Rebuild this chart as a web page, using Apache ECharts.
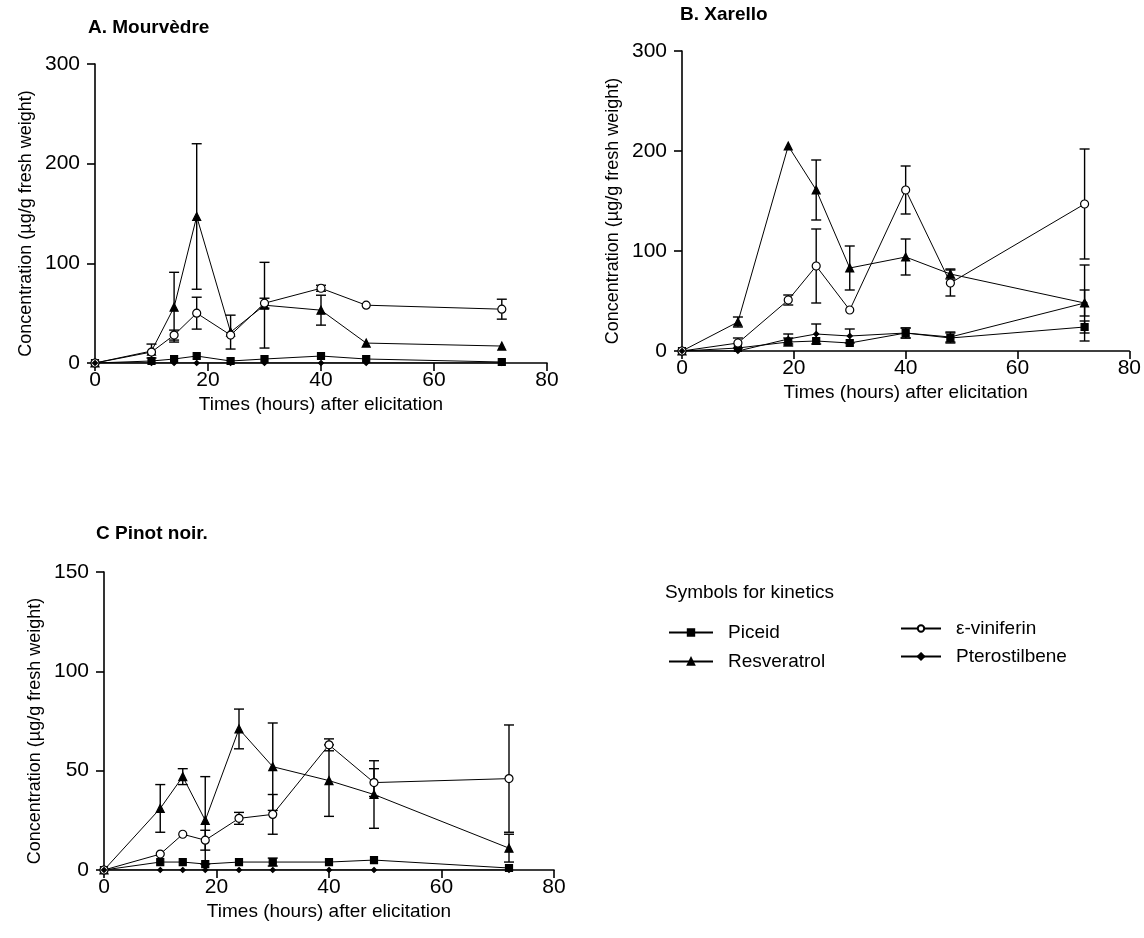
<!DOCTYPE html>
<html>
<head>
<meta charset="utf-8">
<script src="https://cdn.jsdelivr.net/npm/echarts@6/dist/echarts.min.js"></script>
<style>
  html, body { margin: 0; padding: 0; background: #fff; }
  #main { width: 1144px; height: 938px; }
</style>
</head>
<body>
<div id="main"></div>
<script>
// hours after elicitation
var hoursA = [0, 10, 14, 18, 24, 30, 40, 48, 72];
var hoursB = [0, 10, 19, 24, 30, 40, 48, 72];
var hoursC = [0, 10, 14, 18, 24, 30, 40, 48, 72];

var seriesNames = ['Piceid', 'Resveratrol', 'ε-viniferin', 'Pterostilbene'];

// A. Mourvèdre (µg/g fresh weight) and error sizes
var mourPiceid = [0, 2, 4, 7, 2, 4, 7, 4, 1];
var mourResv = [0, 12, 56, 147, 31, 58, 53, 20, 17];
var mourVini = [0, 11, 28, 50, 28, 60, 75, 58, 54];
var mourPtero = [0, 0, 0, 0, 0, 0, 0, 0, 0];
var mourResvErr = [0, 7, 35, 73, 17, 43, 15, 0, 0];
var mourViniErr = [0, 0, 5, 16, 0, 5, 3, 0, 10];

// B. Xarello
var xarPiceid = [0, 3, 9, 10, 8, 18, 13, 24];
var xarResv = [0, 29, 205, 161, 83, 94, 77, 48];
var xarVini = [0, 8, 51, 85, 41, 161, 68, 147];
var xarPtero = [0, 0, 12, 17, 15, 18, 14, 48];
var xarPiceidErr = [0, 0, 4, 0, 0, 5, 5, 6];
var xarResvErr = [0, 5, 0, 30, 22, 18, 5, 38];
var xarViniErr = [0, 5, 5, 37, 0, 24, 13, 55];
var xarPteroErr = [0, 0, 5, 10, 7, 5, 5, 13];

// C Pinot noir
var pinPiceid = [0, 4, 4, 3, 4, 4, 4, 5, 1];
var pinResv = [0, 31, 47, 25, 71, 52, 45, 38, 11];
var pinVini = [0, 8, 18, 15, 26, 28, 63, 44, 46];
var pinPtero = [0, 0, 0, 0, 0, 0, 0, 0, 0];
var pinPiceidErr = [0, 0, 0, 0, 0, 2, 0, 0, 0];
var pinResvErr = [0, 12, 4, 22, 10, 22, 18, 17, 7];
var pinViniErr = [0, 0, 0, 5, 3, 10, 3, 7, 27];

var FONT = 'Liberation Sans';

function pairs(hours, vals) {
	var out = [];
	for (var i = 0; i < hours.length; i++) {
		out.push([hours[i], vals[i]]);
	}
	return out;
}

function errPairs(hours, vals, err) {
	var out = [];
	for (var i = 0; i < hours.length; i++) {
		if (err[i] > 0) {
			out.push([hours[i], Math.max(0, vals[i] - err[i]), vals[i] + err[i]]);
		}
	}
	return out;
}

function renderErr(params, api) {
	var x = api.value(0);
	var top = api.coord([x, api.value(2)]);
	var bot = api.coord([x, api.value(1)]);
	var w = 5;
	var st = { stroke: '#000', lineWidth: 1.4 };
	return {
		type: 'group',
		children: [
			{ type: 'line', shape: { x1: top[0], y1: top[1], x2: bot[0], y2: bot[1] }, style: st },
			{ type: 'line', shape: { x1: top[0] - w, y1: top[1], x2: top[0] + w, y2: top[1] }, style: st },
			{ type: 'line', shape: { x1: bot[0] - w, y1: bot[1], x2: bot[0] + w, y2: bot[1] }, style: st }
		]
	};
}

var symbolOf = {
	'Piceid': { symbol: 'rect', size: 7, fill: '#000' },
	'Resveratrol': { symbol: 'triangle', size: 8, fill: '#000' },
	'ε-viniferin': { symbol: 'circle', size: 8, fill: '#fff' },
	'Pterostilbene': { symbol: 'diamond', size: 5, fill: '#000' }
};

function lineSeries(name, idx, hours, vals) {
	var s = symbolOf[name];
	return {
		name: name,
		type: 'line',
		xAxisIndex: idx,
		yAxisIndex: idx,
		data: pairs(hours, vals),
		symbol: s.symbol,
		symbolSize: s.size,
		showAllSymbol: true,
		lineStyle: { color: '#000', width: 1 },
		itemStyle: { color: s.fill, borderColor: '#000', borderWidth: 1.2 },
		emphasis: { disabled: true },
		animation: false,
		z: 3
	};
}

function errSeries(idx, data) {
	return {
		type: 'custom',
		xAxisIndex: idx,
		yAxisIndex: idx,
		data: data,
		encode: { x: 0, y: [1, 2] },
		renderItem: renderErr,
		silent: true,
		animation: false,
		z: 2
	};
}

function xAxisFor(idx) {
	return {
		gridIndex: idx,
		type: 'value',
		min: 0,
		max: 80,
		interval: 20,
		name: 'Times (hours) after elicitation',
		nameLocation: 'middle',
		nameGap: 32,
		nameTextStyle: { fontFamily: FONT, fontSize: 19, color: '#000' },
		axisLine: { lineStyle: { color: '#000', width: 1.6 } },
		axisTick: { length: 8, lineStyle: { color: '#000', width: 1.6 } },
		axisLabel: { fontFamily: FONT, fontSize: 21, color: '#000', margin: 7 },
		splitLine: { show: false }
	};
}

function yAxisFor(idx, max, interval) {
	return {
		gridIndex: idx,
		type: 'value',
		min: 0,
		max: max,
		interval: interval,
		name: 'Concentration (µg/g fresh weight)',
		nameLocation: 'middle',
		nameRotate: 90,
		nameGap: 60,
		nameTextStyle: { fontFamily: FONT, fontSize: 18, color: '#000', padding: [0, 20, 0, 0] },
		axisLine: { show: true, lineStyle: { color: '#000', width: 1.6 } },
		axisTick: { show: true, length: 8, lineStyle: { color: '#000', width: 1.6 } },
		axisLabel: { fontFamily: FONT, fontSize: 21, color: '#000', margin: 15 },
		splitLine: { show: false }
	};
}

var titleStyle = { fontFamily: FONT, fontSize: 19, fontWeight: 'bold', color: '#000' };
var legendText = { fontFamily: FONT, fontSize: 19, color: '#000', padding: [0, 0, 0, 10] };

var chart = echarts.init(document.getElementById('main'));

var option = {
	backgroundColor: '#fff',
	animation: false,
	title: [
		{ text: 'A. Mourvèdre', left: 83, top: 13, textStyle: titleStyle },
		{ text: 'B. Xarello', left: 675, top: 0, textStyle: titleStyle },
		{ text: 'C Pinot noir.', left: 91, top: 519, textStyle: titleStyle },
		{ text: 'Symbols for kinetics', left: 660, top: 578, textStyle: { fontFamily: FONT, fontSize: 19, fontWeight: 'normal', color: '#000' } }
	],
	legend: [{
		data: ['Piceid', 'Resveratrol'],
		orient: 'vertical',
		left: 663,
		top: 618,
		itemWidth: 44,
		itemHeight: 8,
		itemGap: 10,
		textStyle: legendText,
		selectedMode: false
	}, {
		data: ['ε-viniferin', 'Pterostilbene'],
		orient: 'vertical',
		left: 895,
		top: 614,
		itemWidth: 40,
		itemHeight: 8,
		itemGap: 9,
		textStyle: legendText,
		selectedMode: false
	}],
	grid: [
		{ left: 95, top: 64, right: 597, bottom: 575 },
		{ left: 682, top: 51, right: 9, bottom: 587 },
		{ left: 104, top: 572, right: 590, bottom: 68 }
	],
	xAxis: [xAxisFor(0), xAxisFor(1), xAxisFor(2)],
	yAxis: [yAxisFor(0, 300, 100), yAxisFor(1, 300, 100), yAxisFor(2, 150, 50)],
	series: [
		// A
		errSeries(0, errPairs(hoursA, mourResv, mourResvErr)),
		errSeries(0, errPairs(hoursA, mourVini, mourViniErr)),
		lineSeries('Piceid', 0, hoursA, mourPiceid),
		lineSeries('Resveratrol', 0, hoursA, mourResv),
		lineSeries('ε-viniferin', 0, hoursA, mourVini),
		lineSeries('Pterostilbene', 0, hoursA, mourPtero),
		// B
		errSeries(1, errPairs(hoursB, xarPiceid, xarPiceidErr)),
		errSeries(1, errPairs(hoursB, xarResv, xarResvErr)),
		errSeries(1, errPairs(hoursB, xarVini, xarViniErr)),
		errSeries(1, errPairs(hoursB, xarPtero, xarPteroErr)),
		lineSeries('Piceid', 1, hoursB, xarPiceid),
		lineSeries('Resveratrol', 1, hoursB, xarResv),
		lineSeries('ε-viniferin', 1, hoursB, xarVini),
		lineSeries('Pterostilbene', 1, hoursB, xarPtero),
		// C
		errSeries(2, errPairs(hoursC, pinPiceid, pinPiceidErr)),
		errSeries(2, errPairs(hoursC, pinResv, pinResvErr)),
		errSeries(2, errPairs(hoursC, pinVini, pinViniErr)),
		lineSeries('Piceid', 2, hoursC, pinPiceid),
		lineSeries('Resveratrol', 2, hoursC, pinResv),
		lineSeries('ε-viniferin', 2, hoursC, pinVini),
		lineSeries('Pterostilbene', 2, hoursC, pinPtero)
	]
};

chart.setOption(option);
</script>
</body>
</html>
